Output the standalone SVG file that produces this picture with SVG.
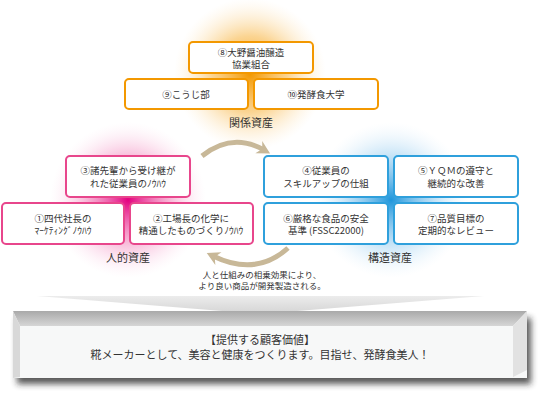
<svg xmlns="http://www.w3.org/2000/svg" width="548" height="400" viewBox="0 0 548 400">
<defs>
<radialGradient id="gOr" cx="0.5" cy="0.5" r="0.5">
<stop offset="0" stop-color="#f39800" stop-opacity="1"/>
<stop offset="0.5" stop-color="#f8b84a" stop-opacity="0.6"/>
<stop offset="1" stop-color="#fde6c0" stop-opacity="0"/>
</radialGradient>
<radialGradient id="gPk" cx="0.5" cy="0.5" r="0.5">
<stop offset="0" stop-color="#e4007f" stop-opacity="1"/>
<stop offset="0.5" stop-color="#ef6cae" stop-opacity="0.55"/>
<stop offset="1" stop-color="#fbd8ea" stop-opacity="0"/>
</radialGradient>
<radialGradient id="gBl" cx="0.5" cy="0.5" r="0.5">
<stop offset="0" stop-color="#1e96dc" stop-opacity="1"/>
<stop offset="0.5" stop-color="#7cc0ec" stop-opacity="0.55"/>
<stop offset="1" stop-color="#d8ecfa" stop-opacity="0"/>
</radialGradient>
<linearGradient id="gTop" x1="0" y1="0" x2="0" y2="1">
<stop offset="0" stop-color="#a9a9a9"/>
<stop offset="1" stop-color="#d6d6d6"/>
</linearGradient>
<linearGradient id="gTri" x1="0" y1="0" x2="0" y2="1">
<stop offset="0" stop-color="#ececec"/>
<stop offset="1" stop-color="#d4d4d4"/>
</linearGradient>
<filter id="blur" x="-10%" y="-30%" width="120%" height="160%">
<feGaussianBlur stdDeviation="3"/>
</filter>
<marker id="ah" markerUnits="userSpaceOnUse" markerWidth="16" markerHeight="16" viewBox="0 0 16 16" refX="8" refY="8" orient="auto">
<path d="M2,1 L15,8 L2,15 L6,8 Z" fill="#c8b898"/>
</marker>
<style>
.bo{fill:#fff;stroke:#f39800;stroke-width:2}
.bp{fill:#fff;stroke:#e8468c;stroke-width:2}
.bb{fill:#fff;stroke:#2fa0dc;stroke-width:2}
text{font-family:"Noto Sans CJK JP","Noto Sans",sans-serif;fill:#333;text-anchor:middle}
.t{font-size:9.5px}
.l{font-size:11px}
.s{font-size:8.5px}
.arc{fill:none;stroke:#c8b898;stroke-width:5;marker-end:url(#ah)}
</style>
</defs>
<rect width="548" height="400" fill="#fff"/>
<circle cx="250" cy="74" r="76" fill="url(#gOr)"/>
<circle cx="128" cy="200" r="78" fill="url(#gPk)"/>
<circle cx="391" cy="200" r="78" fill="url(#gBl)"/>

<g id="connectors">
<path class="arc" d="M202,156 Q232,132 264,150"/>
<path class="arc" d="M288,248 Q256,277 213,256"/>
</g>

<g id="n8"><rect class="bo" x="189" y="42" width="124" height="31" rx="4"/><text class="t" x="251" y="55.5">⑧大野醤油醸造</text><text class="t" x="251" y="68">協業組合</text></g>
<g id="n9"><rect class="bo" x="125" y="79" width="123" height="30" rx="4"/><text class="t" x="186" y="97.5">⑨こうじ部</text></g>
<g id="n10"><rect class="bo" x="254" y="79" width="124" height="30" rx="4"/><text class="t" x="316" y="97.5">⑩発酵食大学</text></g>
<text class="l" x="251" y="127">関係資産</text>

<g id="n3"><rect class="bp" x="66" y="156" width="124" height="41" rx="4"/><text class="t" x="128" y="174">③諸先輩から受け継が</text><text class="t" x="128" y="186.5">れた従業員のﾉｳﾊｳ</text></g>
<g id="n1"><rect class="bp" x="2" y="203" width="122" height="41" rx="4"/><text class="t" x="63" y="221.5">①四代社長の</text><text class="t" x="63" y="234">ﾏｰｹﾃｨﾝｸﾞﾉｳﾊｳ</text></g>
<g id="n2"><rect class="bp" x="130" y="203" width="123" height="41" rx="4"/><text class="t" x="191" y="221.5">②工場長の化学に</text><text class="t" x="191" y="234">精通したものづくりﾉｳﾊｳ</text></g>
<text class="l" x="128" y="262">人的資産</text>

<g id="n4"><rect class="bb" x="264" y="156" width="124" height="41" rx="4"/><text class="t" x="326" y="174">④従業員の</text><text class="t" x="326" y="186.5">スキルアップの仕組</text></g>
<g id="n5"><rect class="bb" x="394" y="156" width="124" height="41" rx="4"/><text class="t" x="456" y="174">⑤ＹＱＭの遵守と</text><text class="t" x="456" y="186.5">継続的な改善</text></g>
<g id="n6"><rect class="bb" x="264" y="203" width="124" height="41" rx="4"/><text class="t" x="326" y="221.5">⑥厳格な食品の安全</text><text class="t" x="326" y="234">基準 (FSSC22000)</text></g>
<g id="n7"><rect class="bb" x="394" y="203" width="124" height="41" rx="4"/><text class="t" x="456" y="221.5">⑦品質目標の</text><text class="t" x="456" y="234">定期的なレビュー</text></g>
<text class="l" x="390" y="262">構造資産</text>

<text class="s" x="262" y="277.5">人と仕組みの相乗効果により、</text>
<text class="s" x="262" y="289">より良い商品が開発製造される。</text>

<g id="value">
<polygon points="37,296 484,296 260,314" fill="url(#gTri)"/>
<rect x="17" y="318" width="514" height="66" fill="#222" opacity="0.75" filter="url(#blur)"/>
<rect x="13" y="311" width="514" height="67" fill="#f7f8f8"/>
<polygon points="13,311 527,311 513,326 20,326" fill="url(#gTop)"/>
<polygon points="13,311 20,326 20,377 13,378" fill="#d8d8d8"/>
<polygon points="527,311 513,326 513,377 527,370" fill="#e2e2e2"/>
<text class="l" x="260" y="343.5">【提供する顧客価値】</text>
<text class="l" x="260" y="359">糀メーカーとして、美容と健康をつくります。目指せ、発酵食美人！</text>
</g>
</svg>
